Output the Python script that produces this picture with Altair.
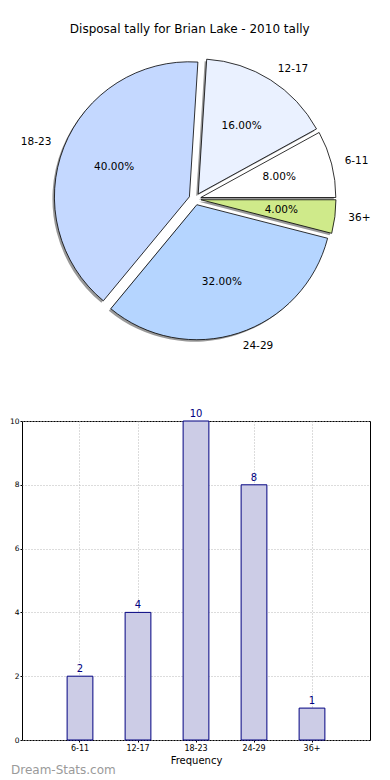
import altair as alt
import pandas as pd

labels = ["6-11", "12-17", "18-23", "24-29", "36+"]
counts = [2, 4, 10, 8, 1]
pie_colors = ["#ffffff", "#eaf1ff", "#c4d8ff", "#b5d5ff", "#cfea8a"]
title_text = "Disposal tally for Brian Lake - 2010 tally"

df = pd.DataFrame({"label": labels, "count": counts, "order": list(range(len(labels)))})

W1, H1 = 348, 360      # pie panel
CX, CY = 173, 158      # pie centre inside the panel
R = 135                # pie radius
E = 6                  # explode distance
SH = 2                 # shadow offset

pie_base = (
    alt.Chart(df)
    .transform_joinaggregate(total="sum(count)")
    .transform_window(cum="sum(count)", sort=[alt.SortField("order")], frame=[None, 0])
    .transform_calculate(
        a1="(datum.cum - datum.count) / datum.total * 2 * PI",
        a2="datum.cum / datum.total * 2 * PI",
    )
    .transform_calculate(
        mid="(datum.a1 + datum.a2) / 2",
        t1="PI / 2 - datum.a2",
        t2="PI / 2 - datum.a1",
    )
    .transform_calculate(
        ex=f"cos(datum.mid) * {E}",
        ey=f"sin(datum.mid) * {E}",
        pct="format(datum.count / datum.total * 100, '.2f') + '%'",
    )
    .transform_calculate(
        sx=f"datum.ex - {SH}",
        sy=f"datum.ey - {SH}",
        lx=f"datum.ex + cos(datum.mid) * {1.1 * R}",
        ly=f"datum.ey + sin(datum.mid) * {1.1 * R}",
        px=f"datum.ex + cos(datum.mid) * {0.6 * R}",
        py=f"datum.ey + sin(datum.mid) * {0.6 * R}",
    )
)

xs = alt.Scale(domain=[-CX, W1 - CX], nice=False, zero=False)
ys = alt.Scale(domain=[-(H1 - CY), CY], nice=False, zero=False)

shadow = pie_base.mark_arc(radius=R, fill="#000000", fillOpacity=0.4).encode(
    x=alt.X("sx:Q", scale=xs, axis=None),
    y=alt.Y("sy:Q", scale=ys, axis=None),
    theta=alt.Theta("t1:Q", scale=None, stack=None),
    theta2="t2:Q",
)

slices = pie_base.mark_arc(radius=R, stroke="#000000", strokeWidth=0.8).encode(
    x=alt.X("ex:Q", scale=xs, axis=None),
    y=alt.Y("ey:Q", scale=ys, axis=None),
    theta=alt.Theta("t1:Q", scale=None, stack=None),
    theta2="t2:Q",
    color=alt.Color("label:N", scale=alt.Scale(domain=labels, range=pie_colors), legend=None),
)

lab_right = pie_base.transform_filter("cos(datum.mid) >= 0").mark_text(
    align="left", baseline="middle", fontSize=10.5, color="#000000"
).encode(
    x=alt.X("lx:Q", scale=xs, axis=None),
    y=alt.Y("ly:Q", scale=ys, axis=None),
    text="label:N",
)

lab_left = pie_base.transform_filter("cos(datum.mid) < 0").mark_text(
    align="right", baseline="middle", fontSize=10.5, color="#000000"
).encode(
    x=alt.X("lx:Q", scale=xs, axis=None),
    y=alt.Y("ly:Q", scale=ys, axis=None),
    text="label:N",
)

pct_text = pie_base.mark_text(
    align="center", baseline="middle", fontSize=10.5, color="#000000"
).encode(
    x=alt.X("px:Q", scale=xs, axis=None),
    y=alt.Y("py:Q", scale=ys, axis=None),
    text="pct:N",
)

pie = alt.layer(shadow, slices, lab_right, lab_left, pct_text).properties(
    width=W1, height=H1, view=alt.ViewBackground(stroke=None)
)

# ---- bar chart ----
W2, H2 = 348, 319
grid_color = "#b8b8b8"

bar_base = alt.Chart(df).encode(
    x=alt.X(
        "label:N",
        sort=labels,
        scale=alt.Scale(paddingInner=0.556, paddingOuter=0.778),
        axis=alt.Axis(
            title="Frequency", labelAngle=0, grid=True, gridColor=grid_color,
            gridDash=[1, 2], gridWidth=1, domain=False, ticks=True, tickSize=2,
            tickColor="#000000", labelFontSize=8, labelPadding=2,
            titleFontSize=10, titleFontWeight="normal", titlePadding=3,
        ),
    ),
    y=alt.Y(
        "count:Q",
        scale=alt.Scale(domain=[0, 10], nice=False),
        axis=alt.Axis(
            title=None, values=[0, 2, 4, 6, 8, 10], grid=True, gridColor=grid_color,
            gridDash=[1, 2], gridWidth=1, domain=False, ticks=True, tickSize=2,
            tickColor="#000000", labelFontSize=7.5, labelPadding=1,
        ),
    ),
)

bars = bar_base.mark_bar(fill="#ccccE6", stroke="#000080", strokeWidth=1)
bar_text = bar_base.mark_text(baseline="bottom", dy=-2, fontSize=10, color="#000080").encode(
    text="count:Q"
)

wm = alt.Chart(pd.DataFrame({"t": ["Dream-Stats.com"]})).mark_text(
    align="left", baseline="middle", fontSize=12, color="#9a9a9a"
).encode(text="t:N", x=alt.value(-11), y=alt.value(H2 + 30))

bar = alt.layer(bars, bar_text, wm).properties(width=W2, height=H2)

chart = (
    alt.vconcat(pie, bar, spacing=20, bounds="flush")
    .properties(
        title=alt.TitleParams(
            title_text, fontSize=12, fontWeight="normal", anchor="middle",
            color="#000000", offset=5,
        ),
        padding={"top": 15, "left": 0, "right": 0, "bottom": 0},
    )
    .configure(font="DejaVu Sans")
    .configure_view(stroke="#000000", strokeWidth=1)
    .configure_axis(labelColor="#000000", titleColor="#000000", labelFont="DejaVu Sans", titleFont="DejaVu Sans")
)

chart.save("out.html", embed_options={"renderer": "svg", "actions": False})
